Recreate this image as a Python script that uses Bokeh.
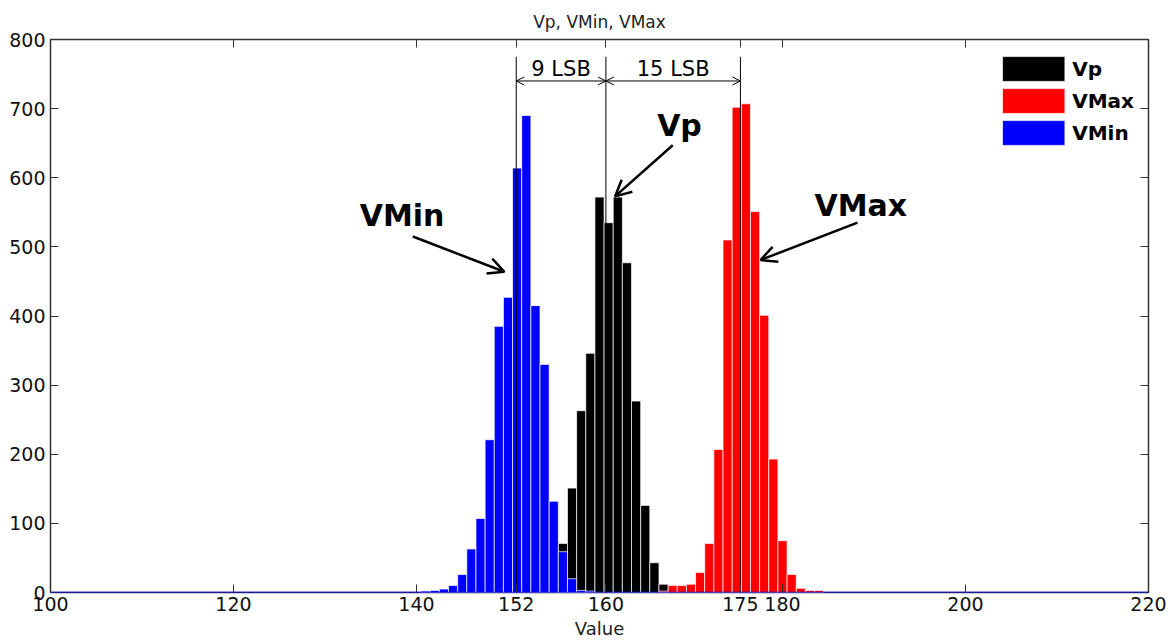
from bokeh.plotting import figure
from bokeh.models import (Range1d, FixedTicker, LinearAxis, Arrow, OpenHead, Label,
                          Span, Legend, LegendItem, CustomJSTickFormatter)
from bokeh.embed import file_html
from bokeh.resources import INLINE

# ---------------- data ----------------
vp_bins = [156, 157, 158, 159, 160, 161, 162, 163, 164, 165, 166, 167]
vp_counts = [71, 151, 263, 346, 572, 535, 572, 477, 277, 126, 43, 12]

vmax_bins = [167, 168, 169, 170, 171, 172, 173, 174, 175, 176, 177, 178, 179, 180, 181, 182, 183, 184]
vmax_counts = [2, 10, 10, 12, 29, 71, 207, 510, 702, 707, 551, 401, 193, 75, 26, 6, 3, 3]

vmin_bins = [141, 142, 143, 144, 145, 146, 147, 148, 149, 150, 151, 152, 153, 154, 155, 156, 157, 158, 159]
vmin_counts = [2, 3, 5, 10, 26, 63, 107, 221, 385, 427, 614, 690, 415, 330, 132, 59, 20, 3, 2]

marker_x = [150.9, 160.7, 175.4]          # positions of the marked values
marker_labels = ["152", "160", "175"]
x_ticks = [100, 120, 140, 180, 200, 220]
y_ticks = [0, 100, 200, 300, 400, 500, 600, 700, 800]
lsb_labels = ["9 LSB", "15 LSB"]

FONT = "DejaVu Sans"

p = figure(width=1170, height=643, output_backend="svg", toolbar_location=None,
           x_range=Range1d(100, 220), y_range=Range1d(0, 800),
           min_border_left=50, min_border_right=22, min_border_top=39, min_border_bottom=51,
           title="Vp, VMin, VMax", x_axis_label="Value")
p.background_fill_color = "white"
p.border_fill_color = "white"
p.grid.visible = False
p.outline_line_color = "#333333"
p.outline_line_width = 1.5

p.title.align = "center"
p.title.text_font = FONT
p.title.text_font_style = "normal"
p.title.text_font_size = "17px"
p.title.text_color = "#222222"
p.title.standoff = 16

# bars: black first, then red, then blue on top
r_vp = p.vbar(x=vp_bins, width=1, top=vp_counts, bottom=0,
              fill_color="black", line_color="white", line_width=0.7)
r_vmax = p.vbar(x=vmax_bins, width=1, top=vmax_counts, bottom=0,
                fill_color="#ff0000", line_color="white", line_width=0.7)
r_vmin = p.vbar(x=vmin_bins, width=1, top=vmin_counts, bottom=0,
                fill_color="#0000ff", line_color="white", line_width=0.7)

p.add_layout(Span(location=0, dimension="width", line_color="#0000ff", line_width=1.5))

# vertical marker lines
p.segment(x0=marker_x, y0=[0] * len(marker_x), x1=marker_x, y1=[775] * len(marker_x),
          line_color="black", line_width=1)

# LSB dimension arrows
for i in range(2):
    p.add_layout(Arrow(start=OpenHead(size=8, line_width=1), end=OpenHead(size=8, line_width=1),
                       x_start=marker_x[i], y_start=740, x_end=marker_x[i + 1], y_end=740,
                       line_width=1, line_color="black"))
    p.add_layout(Label(x=(marker_x[i] + marker_x[i + 1]) / 2, y=757, text=lsb_labels[i],
                       text_align="center", text_baseline="middle", text_font=FONT,
                       text_font_size="21px", text_color="black"))

# big labels with arrows
big = dict(text_font=FONT, text_font_style="bold", text_font_size="30px",
           text_color="black", text_baseline="middle")
p.add_layout(Label(x=133.8, y=545, text="VMin", **big))
p.add_layout(Label(x=166.3, y=675, text="Vp", **big))
p.add_layout(Label(x=183.5, y=560, text="VMax", **big))

def big_arrow(xs, ys, xe, ye):
    p.add_layout(Arrow(end=OpenHead(size=16, line_width=2.5), x_start=xs, y_start=ys,
                       x_end=xe, y_end=ye, line_width=2.5, line_color="black"))

big_arrow(139.6, 515, 149.6, 464)
big_arrow(168.0, 647, 161.7, 573)
big_arrow(188.2, 535, 177.6, 481)

# axes
overrides = {float(x): lbl for x, lbl in zip(marker_x, marker_labels)}
xt = FixedTicker(ticks=x_ticks + marker_x)
yt = FixedTicker(ticks=y_ticks)

xa = p.xaxis[0]
xa.ticker = xt
xa.major_label_overrides = overrides
ya = p.yaxis[0]
ya.ticker = yt

for ax in (xa, ya):
    ax.major_tick_in = 8
    ax.major_tick_out = 0
    ax.minor_tick_line_color = None
    ax.axis_line_color = None
    ax.major_tick_line_color = "#333333"
    ax.major_label_text_font = FONT
    ax.major_label_text_font_size = "19px"
    ax.major_label_text_color = "#111111"
xa.major_label_standoff = 4
xa.axis_label_text_font = FONT
xa.axis_label_text_font_size = "18px"
xa.axis_label_text_font_style = "normal"
xa.axis_label_text_color = "#222222"
xa.axis_label_standoff = 4
ya.major_label_standoff = 5

empty = CustomJSTickFormatter(code="return ''")
top_ax = LinearAxis(ticker=FixedTicker(ticks=x_ticks + marker_x), formatter=empty)
right_ax = LinearAxis(ticker=FixedTicker(ticks=y_ticks), formatter=empty)
for ax in (top_ax, right_ax):
    ax.major_tick_in = 8
    ax.major_tick_out = 0
    ax.minor_tick_line_color = None
    ax.axis_line_color = None
    ax.major_tick_line_color = "#333333"
    ax.major_label_standoff = 0
p.add_layout(top_ax, "above")
p.add_layout(right_ax, "right")

legend = Legend(items=[LegendItem(label="Vp", renderers=[r_vp]),
                       LegendItem(label="VMax", renderers=[r_vmax]),
                       LegendItem(label="VMin", renderers=[r_vmin])],
                location="top_right", glyph_width=78, glyph_height=31, spacing=1,
                label_text_font=FONT, label_text_font_style="bold",
                label_text_font_size="20px", label_text_color="black", label_standoff=0,
                border_line_color=None, background_fill_alpha=0,
                padding=4, margin=14)
p.add_layout(legend)

open("out.html", "w").write(file_html(p, INLINE))
